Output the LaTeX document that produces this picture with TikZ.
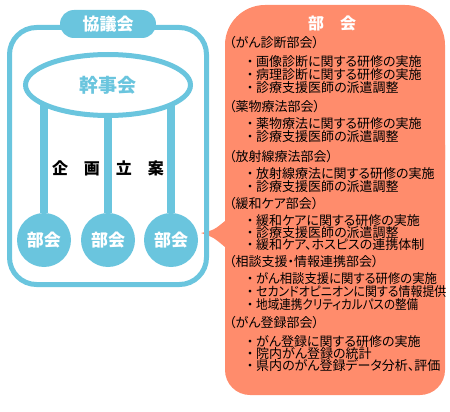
\documentclass[tikz,border=0pt]{standalone}
\usepackage{fontspec}
\setmainfont{Noto Sans CJK JP}
\newfontfamily\jpp[RawFeature=+palt]{Noto Sans CJK JP}
\usetikzlibrary{shapes.geometric, backgrounds}

\definecolor{kyogi}{RGB}{106,197,222}
\definecolor{bukai}{RGB}{255,140,108}
\newcommand{\itm}[2]{\makebox[12pt]{・}\scalebox{#2}[1]{#1}}

\begin{document}
\begin{tikzpicture}[x=1pt, y=-1pt,
		kyogiline/.style={draw=kyogi, line width=5pt},
		kyogititle/.style={fill=kyogi, text=white, rounded corners=14pt, minimum width=96pt, minimum height=28pt, inner sep=0pt, font=\fontsize{17}{17}\selectfont\bfseries},
		kanji/.style={ellipse, kyogiline, fill=white, minimum width=165pt, minimum height=61pt, inner sep=0pt, text=kyogi, font=\fontsize{19}{19}\selectfont\bfseries},
		bu/.style={circle, fill=kyogi, minimum size=54pt, inner sep=0pt, text=white, font=\fontsize{17}{17}\selectfont\bfseries},
		bar/.style={draw=kyogi, line width=8pt},
		plan/.style={inner sep=0pt, font=\fontsize{16}{16}\selectfont\bfseries},
		bukaititle/.style={inner sep=0pt, text=white, font=\fontsize{16}{16}\selectfont\bfseries},
		bukaihead/.style={anchor=west, inner sep=0pt, font=\jpp\fontsize{13}{13}\selectfont},
		bukaiitem/.style={bukaihead}
	]
	\useasboundingbox (0,0) rectangle (450,412);

	% 部会 panel
	\fill[bukai, rounded corners=40pt] (225,5) rectangle (445,200);
	\fill[bukai, rounded corners=25pt] (225,120) rectangle (445,395);
	\coordinate (tip) at (201,233);
	\fill[bukai] (225,221) .. controls (214,230) .. (tip) .. controls (213,237) .. (225,247) -- cycle;

	% 協議会 frame
	\draw[kyogiline, rounded corners=27pt] (9.5,27.5) rectangle (206.5,284.5);
	\node[kyogititle] (kyogi) at (108,24) {協議会};
	\node[kanji] (kanji) at (108,85) {幹事会};
	\node[plan] (plan) at (108,168) {企　画　立　案};
	\node[bu] (bu1) at (44,240) {部会};
	\node[bu] (bu2) at (108,240) {部会};
	\node[bu] (bu3) at (171,240) {部会};
	\begin{scope}[on background layer]
		\foreach \n in {bu1,bu2,bu3}
			\draw[bar] (\n) -- (\n |- kanji);
	\end{scope}

	% 部会 list
	\node[bukaititle] (bukai) at (332,23) {部　会};
	\foreach \y/\t [count=\i] in {43/（がん診断部会）, 107/（薬物療法部会）, 157/（放射線療法部会）,
			204/（緩和ケア部会）, 262/（相談支援・情報連携部会）, 323/（がん登録部会）}
		\node[bukaihead] (head\i) at (229,\y) {\t};
	\foreach \y/\t/\s [count=\i] in {62/画像診断に関する研修の実施/1, 75/病理診断に関する研修の実施/1, 88/診療支援医師の派遣調整/1,
			124/薬物療法に関する研修の実施/1, 137/診療支援医師の派遣調整/1,
			174/放射線療法に関する研修の実施/1, 187/診療支援医師の派遣調整/1,
			221/緩和ケアに関する研修の実施/1, 233/診療支援医師の派遣調整/1, 245/緩和ケア、ホスピスの連携体制/1,
			279/がん相談支援に関する研修の実施/0.95, 292/セカンドオピニオンに関する情報提供/0.92, 305/地域連携クリティカルパスの整備/0.89,
			342/がん登録に関する研修の実施/1, 354/院内がん登録の統計/1, 366/県内のがん登録データ分析、評価/1}
		\node[bukaiitem] (item\i) at (244,\y) {\itm{\t}{\s}};
\end{tikzpicture}
\end{document}
